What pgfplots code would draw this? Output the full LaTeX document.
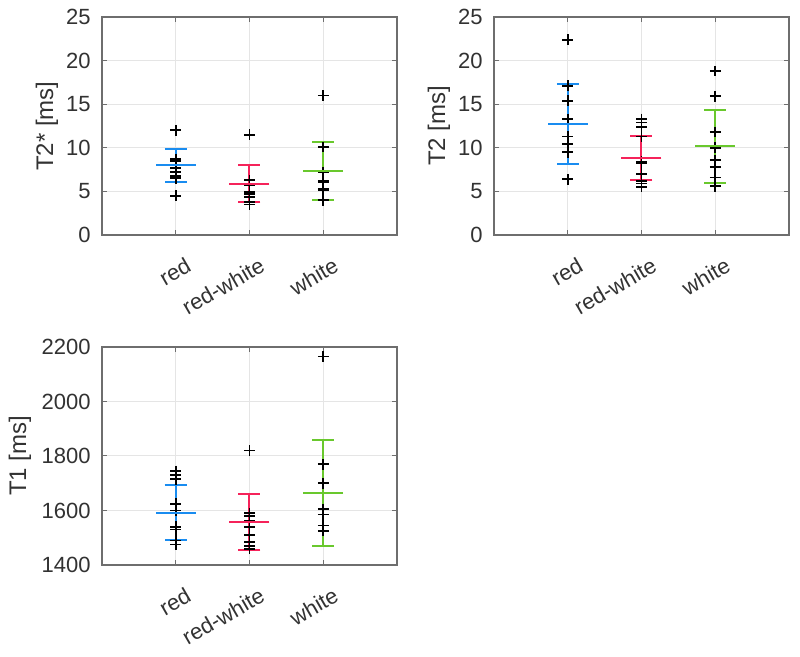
\documentclass[border=0pt]{standalone}
\usepackage{pgfplots}
\pgfplotsset{compat=1.18}
\usepackage{fontspec}
\setmainfont{Liberation Sans}
\definecolor{cblue}{RGB}{25,140,240}
\definecolor{cpink}{RGB}{245,35,90}
\definecolor{cgreen}{RGB}{105,200,45}
\definecolor{txt}{RGB}{50,50,50}
\definecolor{axc}{RGB}{110,110,110}
\newcommand{\tickfont}{\fontsize{11}{13}\selectfont}
\newcommand{\lblfont}{\fontsize{12}{14}\selectfont}
\pgfplotsset{
 myax/.style={
  scale only axis, width=147.5pt, height=109pt,
  xmin=0, xmax=4, xtick={1,2,3}, xticklabels={red,red-white,white},
  xticklabel style={inner sep=0pt, xshift=4.5pt, yshift=-10.5pt, rotate=30, anchor=north east, font=\tickfont, text=txt},
  yticklabel style={inner sep=0pt, xshift=-5.5pt, font=\tickfont, text=txt},
  ylabel style={at={(axis description cs:-0.1864,0.5)}, anchor=center, font=\lblfont, text=txt},
  tick align=inside, major tick length=2.5pt,
  xtick pos=both, ytick pos=both,
  grid=major, grid style={black!10, line width=0.5pt},
  axis line style={axc, line width=0.6pt},
  tick style={axc, line width=0.5pt},
  /pgf/number format/assume math mode=true,
  /pgf/number format/1000 sep={},
 },
 pts/.style={only marks, mark=+, mark size=2.7pt, black, mark options={line width=0.9pt}},
 grp/.style={#1, line width=1pt, mark=-, mark size=10pt, mark options={line width=1pt, #1},
   error bars/.cd, y dir=both, y explicit, error mark=|,
   error mark options={mark size=5.5pt, line width=1pt, #1},
   error bar style={line width=1pt, #1}},
}
\begin{document}
\begin{tikzpicture}
\path[use as bounding box] (0,0) rectangle (400pt,-328.5pt);
% ---------- T2* ----------
\begin{axis}[myax, at={(51pt,-8.5pt)}, anchor=north west,
  ymin=0, ymax=25, ytick={0,5,10,15,20,25}, ylabel={T2* [ms]}]
\addplot[pts] coordinates {(1,12.0) (1,8.7) (1,8.5) (1,7.7) (1,7.2) (1,6.8) (1,6.5) (1,4.5)};
\addplot[pts] coordinates {(2,11.5) (2,6.3) (2,5.7) (2,4.9) (2,4.7) (2,4.4) (2,3.8) (2,3.5)};
\addplot[pts] coordinates {(3,16.0) (3,10.1) (3,7.2) (3,6.2) (3,6.1) (3,5.3) (3,5.2) (3,4.0)};
\addplot[grp=cblue] coordinates {(1,8.0) +- (0,1.9)};
\addplot[grp=cpink] coordinates {(2,5.9) +- (0,2.1)};
\addplot[grp=cgreen] coordinates {(3,7.35) +- (0,3.35)};
\end{axis}
% ---------- T2 ----------
\begin{axis}[myax, at={(247pt,-8.5pt)}, anchor=north west,
  ymin=0, ymax=25, ytick={0,5,10,15,20,25}, ylabel={T2 [ms]}]
\addplot[pts] coordinates {(1,22.4) (1,17.1) (1,15.4) (1,13.3) (1,11.3) (1,10.5) (1,10.4) (1,9.5) (1,6.4)};
\addplot[pts] coordinates {(2,13.3) (2,12.9) (2,12.4) (2,11.3) (2,8.4) (2,8.2) (2,7.0) (2,6.2) (2,5.9) (2,5.5)};
\addplot[pts] coordinates {(3,18.8) (3,15.9) (3,11.8) (3,10.0) (3,8.6) (3,7.8) (3,6.6) (3,5.6)};
\addplot[grp=cblue] coordinates {(1,12.75) +- (0,4.6)};
\addplot[grp=cpink] coordinates {(2,8.85) +- (0,2.5)};
\addplot[grp=cgreen] coordinates {(3,10.15) +- (0,4.15)};
\end{axis}
% ---------- T1 ----------
\begin{axis}[myax, at={(51pt,-173.5pt)}, anchor=north west,
  ymin=1400, ymax=2200, ytick={1400,1600,1800,2000,2200}, ylabel={T1 [ms]},
  ylabel style={at={(axis description cs:-0.278,0.5)}}]
\addplot[pts] coordinates {(1,1745) (1,1730) (1,1715) (1,1625) (1,1600) (1,1540) (1,1530) (1,1490) (1,1475)};
\addplot[pts] coordinates {(2,1820) (2,1590) (2,1580) (2,1560) (2,1540) (2,1510) (2,1485) (2,1470) (2,1460)};
\addplot[pts] coordinates {(3,2165) (3,1770) (3,1700) (3,1605) (3,1585) (3,1545) (3,1525)};
\addplot[grp=cblue] coordinates {(1,1592) +- (0,100)};
\addplot[grp=cpink] coordinates {(2,1558) +- (0,103)};
\addplot[grp=cgreen] coordinates {(3,1663) +- (0,195)};
\end{axis}
\end{tikzpicture}
\end{document}
